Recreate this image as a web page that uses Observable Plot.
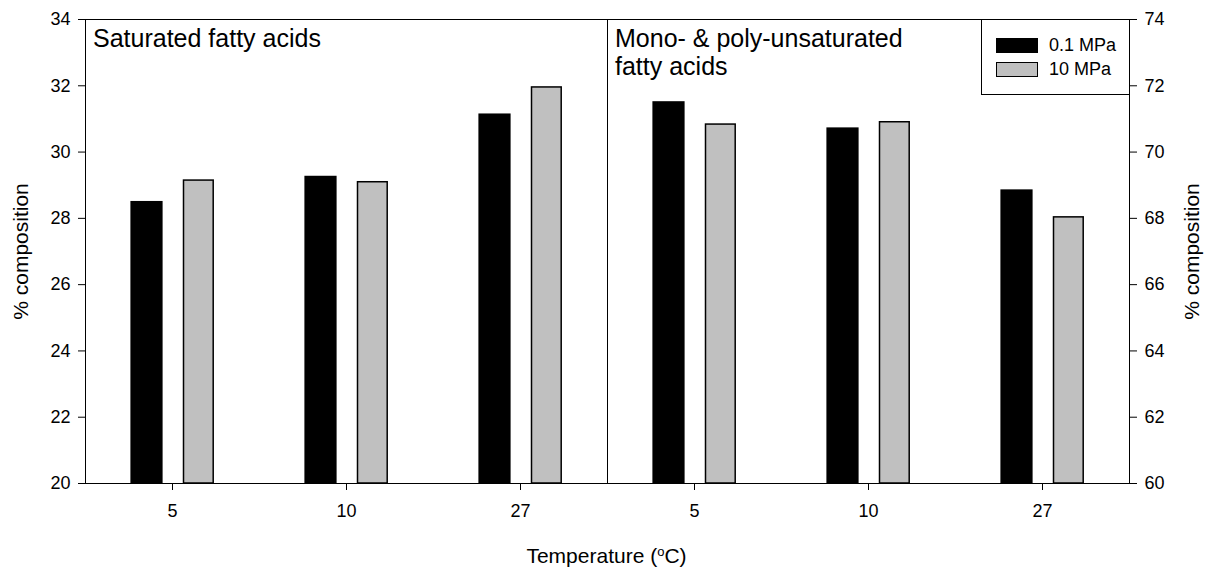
<!DOCTYPE html>
<html>
<head>
<meta charset="utf-8">
<script src="https://cdn.jsdelivr.net/npm/d3@7"></script>
<script src="https://cdn.jsdelivr.net/npm/@observablehq/plot@0.6"></script>
<style>
  html, body { margin: 0; padding: 0; background: #fff; }
  #wrap { position: relative; width: 1209px; height: 569px; font-family: "Liberation Sans", Arial, sans-serif; color: #000; }
  #xlabel { position: absolute; left: 0; width: 1213px; top: 545px; text-align: center; font-size: 21px; line-height: 21px; }
  #xlabel sup { font-size: 13px; vertical-align: 7px; line-height: 0; }
  #legend { position: absolute; left: 981px; top: 19px; width: 147px; height: 74px; border: 1px solid #000; background: #fff; box-sizing: content-box; }
  .item { position: absolute; left: 14px; height: 15px; display: flex; align-items: center; font-size: 18px; }
  .sw { width: 42px; height: 15px; box-sizing: border-box; margin-right: 11px; }
</style>
</head>
<body>
<div id="wrap"></div>
<script>
// ---- data ----
const temperatures = ["5", "10", "27"];
const panels = ["S", "U"];
const panelTitles = ["Saturated fatty acids", "Mono- & poly-unsaturated\nfatty acids"];
const pressures = ["0.1 MPa", "10 MPa"];
const saturated_01 = [28.51, 29.27, 31.15];
const saturated_10 = [29.14, 29.09, 31.95];
const unsaturated_01 = [71.52, 70.73, 68.86];
const unsaturated_10 = [70.83, 70.90, 68.03];
const leftTicks = [20, 22, 24, 26, 28, 30, 32, 34];
const rightTicks = [60, 62, 64, 66, 68, 70, 72, 74];
const colors = ["#000000", "#c0c0c0"];

const rightOffset = rightTicks[0] - leftTicks[0];

function rows(panel, values, pressure) {
  return values.map((v, i) => ({panel, temp: temperatures[i], pressure, value: v}));
}
const black = [...rows("S", saturated_01, pressures[0]), ...rows("U", unsaturated_01, pressures[0])];
const gray = [...rows("S", saturated_10, pressures[1]), ...rows("U", unsaturated_10, pressures[1])];
const yv = d => d.panel === "U" ? d.value - rightOffset : d.value;
const base = leftTicks[0];
const titles = panels.map((p, i) => ({panel: p, text: panelTitles[i]}));

const chart = Plot.plot({
  width: 1209,
  height: 569,
  marginLeft: 84,
  marginRight: 80,
  marginTop: 19,
  marginBottom: 86,
  style: {fontFamily: "'Liberation Sans', Arial, sans-serif", fontSize: "18px", color: "#000", background: "#fff"},
  fx: {domain: panels, padding: 0, axis: null},
  x: {domain: temperatures, paddingInner: 0, paddingOuter: 0, axis: null},
  y: {domain: [leftTicks[0], leftTicks[leftTicks.length - 1]], axis: null},
  marks: [
    Plot.barY(black, {fx: "panel", x: "temp", y1: base, y2: yv, fill: colors[0], insetLeft: 45.4, insetRight: 96.4}),
    Plot.barY(gray, {fx: "panel", x: "temp", y1: base, y2: yv, fill: colors[1], stroke: "#000", strokeWidth: 1.5, insetLeft: 98.5, insetRight: 45.8}),
    Plot.frame({stroke: "#000", strokeWidth: 1}),
    Plot.axisY({anchor: "left", ticks: leftTicks, tickSize: 7, tickPadding: 8, label: null, fontSize: 18}),
    Plot.axisY({anchor: "right", ticks: leftTicks, tickFormat: (d, i) => rightTicks[i], tickSize: 7, tickPadding: 8, label: null, fontSize: 18}),
    Plot.axisX({anchor: "bottom", tickSize: 7, tickPadding: 14, label: null, fontSize: 18}),
    Plot.text(titles, {fx: "panel", text: "text", frameAnchor: "top-left", textAnchor: "start", lineAnchor: "top", dx: 7.5, dy: 8, fontSize: 25, lineHeight: 1.12, fill: "#000"}),
    Plot.text([{panel: "S"}], {fx: "panel", text: () => "% composition", frameAnchor: "left", textAnchor: "middle", lineAnchor: "middle", rotate: -90, dx: -64, fontSize: 21, fill: "#000"}),
    Plot.text([{panel: "U"}], {fx: "panel", text: () => "% composition", frameAnchor: "right", textAnchor: "middle", lineAnchor: "middle", rotate: -90, dx: 63, fontSize: 21, fill: "#000"})
  ]
});

const wrap = document.getElementById("wrap");
wrap.appendChild(chart);

const xl = document.createElement("div");
xl.id = "xlabel";
xl.innerHTML = "Temperature (<sup>o</sup>C)";
wrap.appendChild(xl);

const lg = document.createElement("div");
lg.id = "legend";
pressures.forEach((p, i) => {
  const it = document.createElement("div");
  it.className = "item";
  it.style.top = (18 + i * 23.5) + "px";
  const sw = document.createElement("div");
  sw.className = "sw";
  sw.style.background = colors[i];
  sw.style.border = i === 0 ? "none" : "1.5px solid #000";
  it.appendChild(sw);
  const t = document.createElement("span");
  t.textContent = p;
  it.appendChild(t);
  lg.appendChild(it);
});
wrap.appendChild(lg);
</script>
</body>
</html>
